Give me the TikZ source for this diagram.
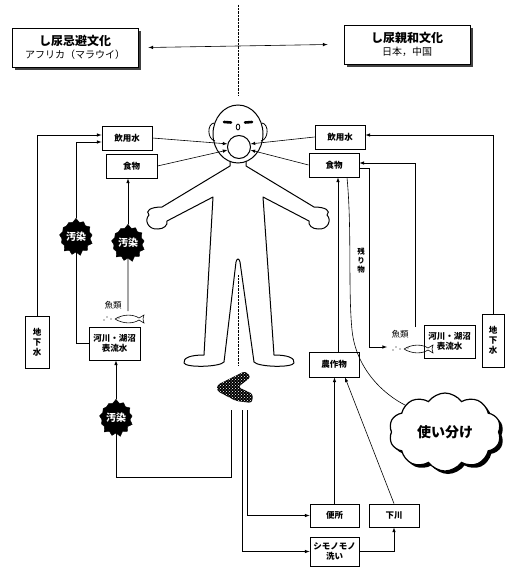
\documentclass[tikz,border=0pt]{standalone}
\usepackage{fontspec}
\setmainfont{Noto Sans CJK JP}
\usetikzlibrary{arrows,shapes.symbols,shadows,patterns}

\begin{document}
\begin{tikzpicture}[x=1pt,y=-1pt,>=latex,
    box/.style={draw,line width=0.9pt,fill=white,inner sep=1pt,align=center,
        font=\bfseries\fontsize{8.5}{10}\selectfont},
    title/.style={box,minimum width=126pt,minimum height=39pt,
        drop shadow={shadow xshift=3pt,shadow yshift=-3pt,fill=black!75,opacity=1},
        font=\fontsize{10}{13}\selectfont},
    smudge/.style={starburst,starburst points=13,starburst point height=4pt,
        random starburst=7,fill=black,draw=black,text=white,inner sep=0pt,
        minimum width=34pt,minimum height=38pt,font=\bfseries\fontsize{10}{11}\selectfont},
    link/.style={line width=0.6pt}]
\useasboundingbox (0,0) rectangle (504,567);

\node[title] (avoid) at (75,47.5) {{\bfseries\fontsize{12}{14}\selectfont し尿忌避文化}\\アフリカ（マラウイ）};
\node[title] (like) at (407,44.5) {{\bfseries\fontsize{12}{14}\selectfont し尿親和文化}\\日本，中国};
\draw[densely dotted] (238,5) -- (238,95);
\draw[link,<->] ([xshift=10pt]avoid.east) -- ([xshift=-16pt]like.west);

% the man
\draw[line width=1pt] (238,134) ellipse (25pt and 29pt);
\draw[line width=0.8pt] (214,123) .. controls (207,124) and (207,139) .. (215,141);
\draw[line width=0.8pt] (262,123) .. controls (269,124) and (269,139) .. (261,141);
\draw[line width=2.6pt,line cap=round] (224,122) -- (231,122.5);
\draw[line width=2.6pt,line cap=round] (245,122.5) -- (252,122);
\draw[line width=0.8pt] (238,127) ellipse (1.8pt and 3pt);
\draw[line width=1pt,line join=round]
    (230,161) -- (230,166) -- (162,207)
    .. controls (150,207) and (145,211) .. (149,215)
    .. controls (144,220) and (148,230) .. (158,229)
    .. controls (164,229) and (168,225) .. (167,221)
    -- (213,197) -- (204,355)
    .. controls (190,355) and (183,358) .. (184,363)
    .. controls (186,368) and (220,367) .. (224,362)
    -- (236,262) .. controls (237,258) and (239,258) .. (240,262)
    -- (254,362)
    .. controls (258,367) and (292,368) .. (294,363)
    .. controls (295,358) and (288,355) .. (274,355)
    -- (263,197) -- (309,221)
    .. controls (308,225) and (312,229) .. (318,229)
    .. controls (328,230) and (332,220) .. (327,215)
    .. controls (331,211) and (326,207) .. (314,207)
    -- (246,166) -- (246,161);
\node[circle,draw,line width=1pt,fill=white,minimum size=23pt] (mouth) at (239,147) {};
\draw[densely dotted] (238,275) -- (238,365);
\path[fill=black,rounded corners=3pt,postaction={pattern=crosshatch dots,pattern color=white}]
    (245,371) -- (251,377) -- (238,387) -- (253,394) -- (252,403) -- (236,401)
    -- (217,391) -- (217,385) -- cycle;
\coordinate (dung1) at (231,410);
\coordinate (dung2) at (247,410);
\coordinate (dung3) at (242,410);

% left side
\node[box,minimum width=50pt,minimum height=24pt] (drinkL) at (127,138) {飲用水};
\node[box,minimum width=51pt,minimum height=24pt] (foodL) at (131.5,166) {食物};
\node[box,minimum width=24pt,minimum height=52pt] (groundL) at (37,342) {地\\下\\水};
\node[box,minimum width=51pt,minimum height=33pt] (riverL) at (114.5,343.5) {河川・湖沼\\表流水};
\node[smudge] (pol1) at (76,237) {汚染};
\node[smudge] (pol2) at (128,243) {汚染};
\node[smudge] (pol3) at (116,418) {汚染};
\node[font=\fontsize{8.5}{9}\selectfont] (fishnameL) at (113,305) {魚類};
\coordinate (fishL) at (128,311);

\draw[link,->] (drinkL.east) -- (mouth.165);
\draw[link,->] (foodL.east) -- (mouth.195);
\draw[link,->] (groundL.north) |- ([yshift=3pt]drinkL.west);
\draw[link] (riverL.west) -| (pol1.south);
\draw[link,->] (pol1.north) |- ([yshift=-4pt]drinkL.west);
\draw[link] (fishL) -- (pol2.south);
\draw[link,->] (pol2.north) -- (pol2.north |- foodL.south);
\draw[link] (dung1) -- ++(0,67) -| (pol3.south);
\draw[link,->] (pol3.north) -- (pol3.north |- riverL.south);

% right side
\node[box,minimum width=50pt,minimum height=24pt] (drinkR) at (340,137) {飲用水};
\node[box,minimum width=50pt,minimum height=24pt] (foodR) at (334,165) {食物};
\node[box,minimum width=22pt,minimum height=53pt] (groundR) at (493,340.5) {地\\下\\水};
\node[box,minimum width=51pt,minimum height=33pt] (riverR) at (449.5,341.5) {河川・湖沼\\表流水};
\node[box,minimum width=50pt,minimum height=25pt] (crops) at (334,364.5) {農作物};
\node[box,minimum width=49pt,minimum height=23pt] (toilet) at (334.5,515.5) {便所};
\node[box,minimum width=50pt,minimum height=23pt] (stream) at (394,515.5) {下川};
\node[box,minimum width=49pt,minimum height=29pt] (wash) at (334.5,551.5) {シモノモノ\\洗い};
\node[font=\fontsize{8.5}{9}\selectfont] (fishnameR) at (400,334) {魚類};
\node[font=\bfseries\fontsize{7.5}{9}\selectfont,align=center] (scraps) at (361,261) {残\\り\\物};
\node[cloud,cloud puffs=10,cloud puff arc=110,aspect=1.5,draw,line width=1.2pt,fill=white,
    minimum width=112pt,minimum height=78pt,
    drop shadow={shadow xshift=3pt,shadow yshift=-3pt,fill=black,opacity=1},
    font=\bfseries\fontsize{14}{16}\selectfont] (cloud) at (445,432) {使い分け};
\coordinate (fishRtop) at (415,327);
\coordinate (fishRin) at (387,347);

\draw[link,->] (drinkR.west) -- (mouth.15);
\draw[link,->] (foodR.west) -- (mouth.-15);
\draw[link,->] (groundR.north) |- ([yshift=2pt]drinkR.east);
\draw[link,->] (fishRtop) |- ([yshift=2pt]foodR.east);
\draw[link,->] ([yshift=-3pt]foodR.east) -- ++(10,0) |- (fishRin);
\draw[link,->] ([xshift=4pt]crops.north) -- ([xshift=4pt]crops.north |- foodR.south);
\draw[link] ([xshift=13pt]foodR.south) .. controls (352,230) and (348,290) .. (352,330)
    .. controls (356,370) and (385,395) .. (cloud.146);
\draw[link,->] (toilet.north) -- (toilet.north |- crops.south);
\draw[link,->] (stream.north) -- ([xshift=11pt]crops.south);
\draw[link,->] (wash.east) -| (stream.south);
\draw[link,->] (dung2) |- (toilet.west);
\draw[link,->] (dung3) |- (wash.west);

% fish and bubbles
\foreach \fx/\fy in {115/319,404/349}{
    \begin{scope}[shift={(\fx,\fy)}]
        \draw[line width=0.6pt] (0,0) .. controls (8,-5) and (18,-5) .. (24,-1) -- (29,-4)
            -- (28,0) -- (29,4) -- (24,1) .. controls (18,5) and (8,5) .. (0,0);
        \fill (4,-1) circle (0.7pt);
        \foreach \bx/\by in {-4/0,-8/-2,-11/1}
            \fill (\bx,\by) circle (0.6pt);
    \end{scope}
}
\end{tikzpicture}
\end{document}
